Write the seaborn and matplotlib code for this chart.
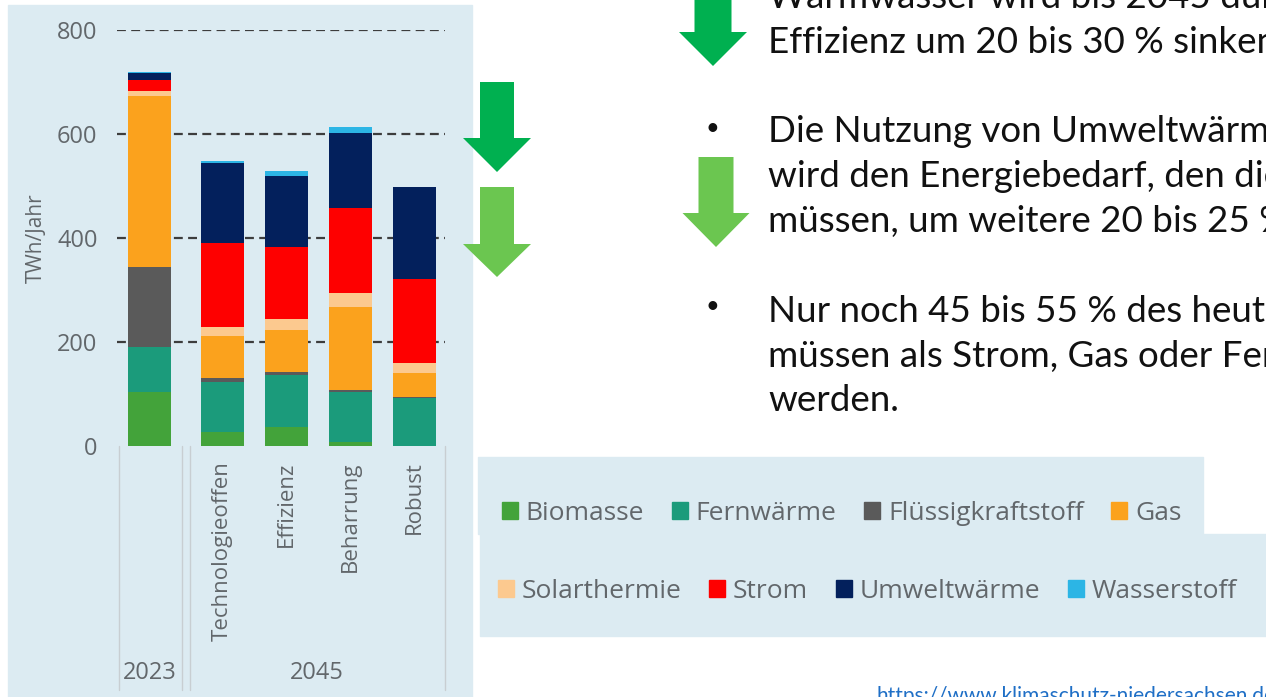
import numpy as np
import pandas as pd
import matplotlib.pyplot as plt
import matplotlib.patches as mpatches
import seaborn as sns

# data (TWh/Jahr)
scenarios = ["2023", "Technologieoffen", "Effizienz", "Beharrung", "Robust"]
carriers = ["Biomasse", "Fernwärme", "Flüssigkraftstoff", "Gas",
            "Solarthermie", "Strom", "Umweltwärme", "Wasserstoff"]
biomasse = [104, 26, 37, 8, 0]
fernwaerme = [87, 98, 100, 95, 92]
fluessig = [154, 6, 5, 5, 3]
gas = [328, 82, 81, 159, 45]
solar = [10, 16, 22, 27, 19]
strom = [21, 163, 138, 164, 162]
umwelt = [13, 154, 136, 143, 178]
wasserstoff = [3, 4, 9, 13, 0]
colors = ["#43a33a", "#1b9b7b", "#5a5a5a", "#fba21d",
          "#fcc98f", "#fe0000", "#03205c", "#2cb5e5"]

text_lines = ["Warmwasser wird bis 2045 durch",
              "Effizienz um 20 bis 30 % sinken.",
              "Die Nutzung von Umweltwärme",
              "wird den Energiebedarf, den die Versorger",
              "müssen, um weitere 20 bis 25 % senken.",
              "Nur noch 45 bis 55 % des heutigen Bedarfs",
              "müssen als Strom, Gas oder Fernwärme geliefert",
              "werden."]
url = "https://www.klimaschutz-niedersachsen.de"

W, H = 1266, 697
PANEL = "#dcebf2"
GREY = "#62676b"


def fx(px):
    return px / W


def fy(py):
    return 1 - py / H


def down_arrow(fig, cx, top, base, tip, shaft, head, color):
    pts = [(cx - shaft / 2, top), (cx + shaft / 2, top), (cx + shaft / 2, base),
           (cx + head / 2, base), (cx, tip), (cx - head / 2, base),
           (cx - shaft / 2, base)]
    poly = mpatches.Polygon([(fx(x), fy(y)) for x, y in pts], closed=True,
                            transform=fig.transFigure, facecolor=color,
                            edgecolor="none")
    fig.add_artist(poly)


sns.set_style("white")
plt.rcParams["font.family"] = ["Open Sans", "DejaVu Sans"]

df = pd.DataFrame(dict(zip(carriers, [biomasse, fernwaerme, fluessig, gas,
                                      solar, strom, umwelt, wasserstoff])),
                  index=scenarios)
cum = df.cumsum(axis=1)

# bar positions: a wider gap between 2023 and the 2045 scenarios
x_pos = np.arange(len(scenarios)) + np.r_[0, [0.14] * (len(scenarios) - 1)]

fig = plt.figure(figsize=(12.66, 6.97), dpi=100)
fig.patch.set_facecolor("white")

# light blue panels
fig.add_artist(mpatches.Rectangle((fx(8), fy(697)), fx(464), 692 / H,
                                  transform=fig.transFigure, color=PANEL, zorder=-5))
fig.add_artist(mpatches.Rectangle((fx(478), fy(534)), fx(725), 77 / H,
                                  transform=fig.transFigure, color=PANEL, zorder=-5))
fig.add_artist(mpatches.Rectangle((fx(480), fy(636)), fx(786), 102 / H,
                                  transform=fig.transFigure, color=PANEL, zorder=-5))

ax = fig.add_axes([fx(117), fy(446), fx(328), 416 / H])
ax.set_facecolor("none")

# stacked bars: draw cumulative totals from top layer down
for name, color in reversed(list(zip(carriers, colors))):
    sns.barplot(x=x_pos, y=cum[name].values, color=color, orient="x",
                native_scale=True, width=0.67, saturation=1, errorbar=None,
                linewidth=0, ax=ax)

ax.set_xlim(-0.508, 4.617)
ax.set_ylim(0, 800)
ax.set_yticks(range(0, 801, 200))
ax.set_xticks(x_pos[1:])
ax.set_xticklabels(scenarios[1:], rotation=90, va="top", ha="center",
                   fontsize=16, color=GREY)
ax.tick_params(axis="y", length=0, pad=14, labelsize=17, labelcolor=GREY)
ax.tick_params(axis="x", length=0, pad=11)
sns.despine(ax=ax, left=True, bottom=True)
ax.set_axisbelow(True)
ax.yaxis.grid(True, color="#3d3d3d", linewidth=1.6, linestyle=(0, (4, 2.4)))
ax.xaxis.grid(False)
ax.yaxis.get_gridlines()[0].set_visible(False)
ax.set_ylabel("TWh/Jahr", fontsize=15, color=GREY, labelpad=7)
ax.set_xlabel("")

# category axis: group separators and group labels
for xa in [0.006, 0.198, 0.224, 1.0]:
    ax.plot([xa, xa], [0, -0.587], transform=ax.transAxes, color="#c8ced2",
            linewidth=1, clip_on=False)
ax.text(0.099, -0.546, "2023", transform=ax.transAxes, ha="center", va="center",
        fontsize=17, color=GREY)
ax.text(0.61, -0.546, "2045", transform=ax.transAxes, ha="center", va="center",
        fontsize=17, color=GREY)

# legend in two rows
handles = [mpatches.Patch(color=c, label=n) for n, c in zip(carriers, colors)]
leg_kw = dict(loc="center left", ncol=4, frameon=False, fontsize=19,
              handlelength=0.6, handleheight=0.6, handletextpad=0.3,
              columnspacing=1.05, borderpad=0, borderaxespad=0, labelcolor=GREY)
fig.legend(handles=handles[:4], bbox_to_anchor=(fx(502), fy(513)), **leg_kw)
fig.legend(handles=handles[4:], bbox_to_anchor=(fx(498), fy(591)), **leg_kw)

# arrows
down_arrow(fig, 713, -5, 32, 66, 37, 68, "#00b050")
down_arrow(fig, 497, 82, 138, 172, 34, 68, "#00b050")
down_arrow(fig, 497, 187, 244, 277, 34, 68, "#6bc650")
down_arrow(fig, 716, 157, 213, 247, 35, 67, "#6bc650")

# slide text
baselines = [8, 53, 142, 187, 232, 322, 367, 411]
for line, yb in zip(text_lines, baselines):
    fig.text(fx(768), fy(yb), line, fontsize=26.5, family="Lato", va="baseline",
             ha="left", color="#111111")
for yb in [128, 307]:
    fig.text(fx(712), fy(yb), "•", fontsize=17, family="Lato", va="center",
             ha="center", color="#111111")
fig.text(fx(876), fy(686), url, fontsize=15, family="Lato", va="top",
         ha="left", color="#1f6fc6")

fig.savefig("out.png", dpi=100)
